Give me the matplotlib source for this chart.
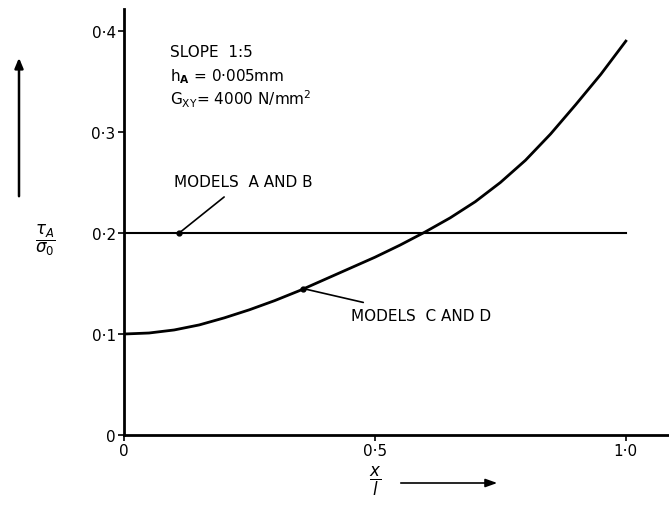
import matplotlib.pyplot as plt
from matplotlib.patches import FancyArrowPatch

# curve for models C and D
x_cd = [0.0, 0.05, 0.1, 0.15, 0.2, 0.25, 0.3, 0.35, 0.4, 0.45, 0.5,
        0.55, 0.6, 0.65, 0.7, 0.75, 0.8, 0.85, 0.9, 0.95, 1.0]
y_cd = [0.100, 0.101, 0.104, 0.109, 0.116, 0.124, 0.133, 0.143, 0.154, 0.165, 0.176,
        0.188, 0.201, 0.215, 0.231, 0.250, 0.272, 0.298, 0.327, 0.357, 0.390]

# models A and B are constant
x_ab = [0.0, 1.0]
y_ab = [0.2, 0.2]

x_ticks = [0.0, 0.5, 1.0]
x_labels = ["0", "0·5", "1·0"]
y_ticks = [0.0, 0.1, 0.2, 0.3, 0.4]
y_labels = ["0", "0·1", "0·2", "0·3", "0·4"]

fig = plt.figure(figsize=(6.69, 5.06), dpi=100)
ax = fig.add_axes([0.1853, 0.1383, 0.8147, 0.842])

ax.plot(x_ab, y_ab, color="black", lw=1.5)
ax.plot(x_cd, y_cd, color="black", lw=2.0)

ax.set_xlim(0, 1.086)
ax.set_ylim(0, 0.4218)

for s in ["top", "right"]:
    ax.spines[s].set_visible(False)
for s in ["left", "bottom"]:
    ax.spines[s].set_linewidth(2.0)

ax.set_xticks(x_ticks)
ax.set_xticklabels(x_labels)
ax.set_yticks(y_ticks)
ax.set_yticklabels(y_labels)
ax.tick_params(direction="out", length=4, width=1.2, labelsize=11, pad=2)

# annotations
ax.plot([0.11], [0.2], "o", color="black", ms=3.5)
ax.annotate("MODELS  A AND B", xy=(0.11, 0.2), xytext=(0.1, 0.251),
            fontsize=11, va="center", ha="left",
            arrowprops=dict(arrowstyle="-", color="black", lw=1.2, shrinkA=6, shrinkB=0))
ax.plot([0.357], [0.145], "o", color="black", ms=3.5)
ax.annotate("MODELS  C AND D", xy=(0.357, 0.145), xytext=(0.453, 0.118),
            fontsize=11, va="center", ha="left",
            arrowprops=dict(arrowstyle="-", color="black", lw=1.2, shrinkA=10, shrinkB=0))

ax.text(0.092, 0.38, "SLOPE  1:5", fontsize=11, va="center")
ax.text(0.092, 0.356, r"h$_\mathbf{A}$ = 0·005mm", fontsize=11, va="center")
ax.text(0.092, 0.333, r"G$_{\mathrm{XY}}$= 4000 N/mm$^2$", fontsize=11, va="center")

# axis labels drawn as fractions with arrows
fig.text(45 / 669, 1 - 240 / 506, r"$\dfrac{\tau_A}{\sigma_0}$", fontsize=12,
         ha="center", va="center")
fig.text(375 / 669, 1 - 481 / 506, r"$\dfrac{x}{l}$", fontsize=12,
         ha="center", va="center")
fig.patches.append(FancyArrowPatch(
    (19 / 669, 1 - 200 / 506), (19 / 669, 1 - 56 / 506), transform=fig.transFigure,
    arrowstyle="-|>,head_length=6,head_width=2.5", color="black", lw=1.8))
fig.patches.append(FancyArrowPatch(
    (398 / 669, 1 - 484 / 506), (500 / 669, 1 - 484 / 506), transform=fig.transFigure,
    arrowstyle="-|>,head_length=7,head_width=2.5", color="black", lw=1.2))

fig.savefig("out.png", dpi=100)
